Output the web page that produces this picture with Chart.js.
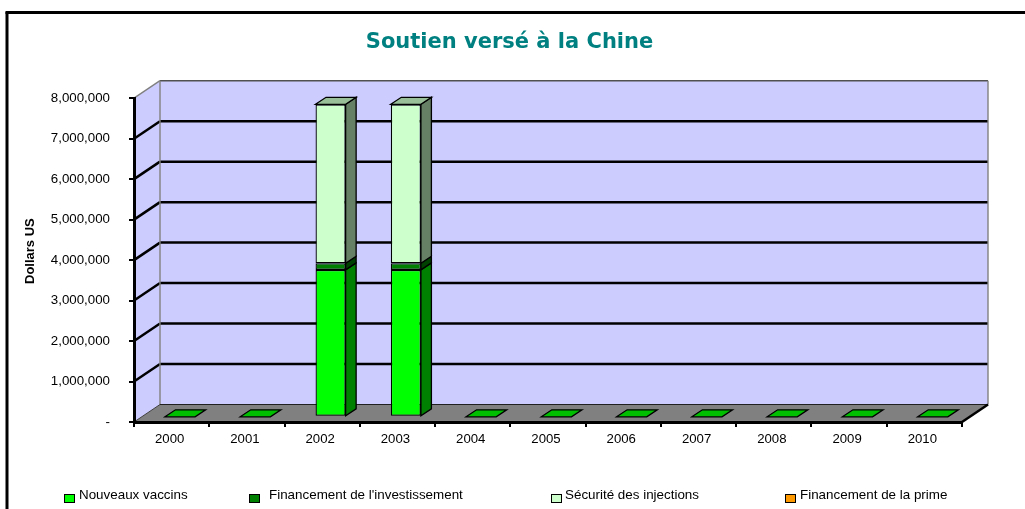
<!DOCTYPE html>
<html><head><meta charset="utf-8">
<style>html,body{margin:0;padding:0;background:#fff}canvas{display:block}</style>
<script src="https://cdn.jsdelivr.net/npm/chart.js@4"></script>
</head><body><canvas id="c" width="1025" height="509"></canvas>
<script>
const categories = ['2000','2001','2002','2003','2004','2005','2006','2007','2008','2009','2010'];
const nouveauxVaccins = [0,0,3630000,3630000,0,0,0,0,0,0,0];
const financementInvestissement = [0,0,165000,165000,0,0,0,0,0,0,0];
const securiteInjections = [0,0,3925000,3925000,0,0,0,0,0,0,0];
const financementPrime = [0,0,0,0,0,0,0,0,0,0,0];
const seriesLabels = ['Nouveaux vaccins','Financement de l\'investissement','S\u00e9curit\u00e9 des injections','Financement de la prime'];
const seriesColors = ['#00ff00','#008000','#ccffcc','#ff9900'];
const legendSwatchX = [64,249,551,785];
const legendTextX = [79,269,565,800];
const FONT = '"Liberation Sans", Arial, sans-serif';

const WALL = {dx:26, dy:-17.5};
const BAR_SHIFT = {dx:8.4, dy:-5.2};
const BAR_DEPTH = {dx:10.5, dy:-7};

function shade(hex,f){
  const n=parseInt(hex.slice(1),16);
  return 'rgb('+[(n>>16)&255,(n>>8)&255,n&255].map(v=>Math.round(v*f)).join(',')+')';
}
function poly(ctx,pts,fill,stroke,lw){
  ctx.beginPath();
  pts.forEach((p,i)=>i?ctx.lineTo(p[0],p[1]):ctx.moveTo(p[0],p[1]));
  ctx.closePath();
  if(fill){ctx.fillStyle=fill;ctx.fill();}
  if(stroke){ctx.strokeStyle=stroke;ctx.lineWidth=lw||1;ctx.stroke();}
}
function line(ctx,x1,y1,x2,y2,c,w){
  ctx.beginPath();ctx.moveTo(x1,y1);ctx.lineTo(x2,y2);ctx.strokeStyle=c;ctx.lineWidth=w;ctx.stroke();
}

const scene = {
  id:'scene',
  afterLayout(chart){
    // the title is centred on the whole frame, not on the plot
    if(chart.titleBlock){chart.titleBlock.left=0;chart.titleBlock.right=1019;}
  },
  beforeDraw(chart){
    const c=chart.ctx;
    c.save();
    c.fillStyle='#fff';c.fillRect(0,0,chart.width,chart.height);
    line(c,5.5,12.5,chart.width,12.5,'#000',3);
    line(c,7,12,7,chart.height,'#000',3);
    // legend
    c.font='13.4px '+FONT;c.textBaseline='middle';c.textAlign='left';
    seriesLabels.forEach((t,i)=>{
      c.fillStyle=seriesColors[i];c.fillRect(legendSwatchX[i]+.5,494.5,10,8);
      c.strokeStyle='#000';c.lineWidth=1;c.strokeRect(legendSwatchX[i]+.5,494.5,10,8);
      c.fillStyle='#000';c.fillText(t,legendTextX[i],495.5);
    });
    // walls and floor, behind the axes
    const a=chart.chartArea,y=chart.scales.y;
    const L=a.left,R=a.right,T=a.top,B=a.bottom,dx=WALL.dx,dy=WALL.dy;
    poly(c,[[L+dx,T+dy],[R+dx,T+dy],[R+dx,B+dy],[L+dx,B+dy]],'#ccccff');
    poly(c,[[L,T],[L+dx,T+dy],[L+dx,B+dy],[L,B]],'#ccccff');
    poly(c,[[L,B],[L+dx,B+dy],[R+dx,B+dy],[R,B]],'#808080');
    y.ticks.forEach(t=>{
      const py=y.getPixelForValue(t.value);
      if(t.value>0&&t.value<y.max){
        line(c,L+dx,py+dy,R+dx,py+dy,'#000',2.5);
        line(c,L,py,L+dx,py+dy,'#000',2.5);
      }
    });
    line(c,L+dx,T+dy,R+dx,T+dy,'#505050',1.6);
    line(c,L,T,L+dx,T+dy,'#808080',1.4);
    line(c,L+dx,T+dy,L+dx,B+dy,'#808080',1.4);
    line(c,R+dx,T+dy,R+dx,B+dy,'#808080',1.4);
    line(c,L+dx,B+dy,R+dx,B+dy,'#202020',1.2);
    line(c,L,B,L+dx,B+dy,'#404040',1);
    line(c,R,B,R+dx,B+dy,'#000',2.5);
    c.restore();
  },
  beforeDatasetsDraw(chart){
    const c=chart.ctx;
    // everything in the datasets sits a little way into the floor
    c.save();
    c.translate(BAR_SHIFT.dx,BAR_SHIFT.dy);
    const bx=BAR_DEPTH.dx,by=BAR_DEPTH.dy;
    categories.forEach((_,i)=>{
      let topEl=null,topColor=seriesColors[0];
      chart.data.datasets.forEach((ds,d)=>{
        const el=chart.getDatasetMeta(d).data[i];
        if(!topEl) {topEl=el;}
        if(ds.data[i]>0){
          const r=el.x+el.width/2;
          poly(c,[[r,el.y],[r+bx,el.y+by],[r+bx,el.base+by],[r,el.base]],shade(seriesColors[d],.5),'#000',1.3);
          topEl=el;topColor=seriesColors[d];
        }
      });
      const l=topEl.x-topEl.width/2,r=topEl.x+topEl.width/2,t=topEl.y;
      poly(c,[[l,t],[l+bx,t+by],[r+bx,t+by],[r,t]],shade(topColor,.75),'#000',1.3);
    });
  },
  afterDatasetsDraw(chart){
    chart.ctx.restore();
  }
};

const mk=(i,data)=>({label:seriesLabels[i],data,backgroundColor:seriesColors[i],borderColor:'#000',borderWidth:1.3,
  categoryPercentage:1,barPercentage:0.4,borderSkipped:false,inflateAmount:0});

new Chart(document.getElementById('c'),{
  type:'bar',
  data:{labels:categories,datasets:[mk(0,nouveauxVaccins),mk(1,financementInvestissement),mk(2,securiteInjections),mk(3,financementPrime)]},
  options:{
    responsive:false,animation:false,
    layout:{padding:{left:23,right:63,top:0,bottom:0}},
    plugins:{
      legend:{display:false},tooltip:{enabled:false},
      title:{display:true,text:'Soutien vers\u00e9 \u00e0 la Chine',color:'#008080',
        font:{family:'"DejaVu Sans", Verdana, sans-serif',size:21,weight:'bold'},padding:{top:30,bottom:43}}
    },
    scales:{
      x:{stacked:true,
        grid:{display:true,drawOnChartArea:false,color:'#000',lineWidth:2,tickLength:5,offset:true},
        border:{display:true,color:'#000',width:3},
        ticks:{color:'#000',font:{family:FONT,size:13.2},padding:4,maxRotation:0,autoSkip:false,labelOffset:-2},
        afterFit(s){s.height=87;}
      },
      y:{stacked:true,min:0,max:8000000,
        afterBuildTicks(s){s.ticks=[0,1,2,3,4,5,6,7,8].map(v=>({value:v*1000000}));},
        grid:{display:true,drawOnChartArea:false,color:'#000',lineWidth:2,tickLength:5},
        border:{display:true,color:'#000',width:3},
        ticks:{color:'#000',font:{family:FONT,size:13.3},padding:19,
          callback:v=>v===0?'-':v.toLocaleString('en-US')},
        title:{display:true,text:'Dollars US',color:'#000',font:{family:FONT,size:13,weight:'bold'},padding:0},
        afterFit(s){
          s.width=111;
          if(!s._titleShifted){
            s._titleShifted=true;
            const orig=s.drawTitle;
            s.drawTitle=function(){this.ctx.save();this.ctx.translate(0,-9);orig.call(this);this.ctx.restore();};
          }
        }
      }
    }
  },
  plugins:[scene]
});
</script></body></html>
